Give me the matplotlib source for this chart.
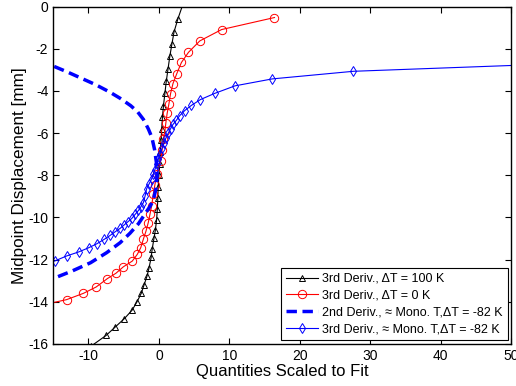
import numpy as np
import matplotlib
matplotlib.use("Agg")
import matplotlib.pyplot as plt

plt.rcParams['font.family'] = ['Liberation Sans', 'DejaVu Sans']
plt.rcParams['axes.unicode_minus'] = False

# 3rd Deriv., dT = 100 K  (black triangles)
blk_x = [3.4, 2.7, 2.15, 1.85, 1.55, 1.3, 1.05, 0.85, 0.65, 0.5, 0.4, 0.3, 0.2, 0.12,
         0.0, -0.1, -0.15, -0.22, -0.32, -0.5, -0.7, -0.95, -1.1, -1.4, -1.7, -2.1,
         -2.5, -3.1, -3.8, -4.9, -6.2, -7.5, -9.6]
blk_y = [0.1, -0.58, -1.2, -1.77, -2.36, -2.95, -3.54, -4.12, -4.7, -5.25, -5.8, -6.35,
         -6.9, -7.45, -8.0, -8.55, -9.1, -9.6, -10.1, -10.6, -11.0, -11.5, -11.9, -12.4,
         -12.8, -13.2, -13.6, -14.0, -14.4, -14.8, -15.2, -15.6, -16.1]

# 3rd Deriv., dT = 0 K  (red circles)
red_x = [-16.5, -13.1, -10.7, -8.9, -7.3, -6.1, -5.03, -3.77, -3.06, -2.58, -2.21,
         -1.83, -1.51, -1.27, -1.03, -0.8, -0.56, -0.32, 0.24, 0.47, 0.61, 0.85, 0.99,
         1.17, 1.41, 1.65, 2.0, 2.54, 3.2, 4.2, 5.8, 8.9, 16.4]
red_y = [-14.15, -13.9, -13.6, -13.3, -12.9, -12.65, -12.34, -12.07, -11.75, -11.44,
         -11.04, -10.65, -10.25, -9.86, -9.46, -8.91, -8.44, -7.96, -7.33, -6.78, -6.3,
         -5.91, -5.51, -5.07, -4.64, -4.14, -3.65, -3.18, -2.65, -2.17, -1.63, -1.09, -0.52]

# 2nd Deriv., ~ Mono. T, dT = -82 K  (thick dashed blue)
dsh_x = [-17.0, -15.0, -13.0, -11.0, -9.0, -7.0, -5.5, -4.0, -3.0, -2.2, -1.5, -1.0,
         -0.6, -0.35, -0.25, -0.4, -0.8, -1.3, -2.0, -2.9, -4.1, -5.5, -7.4, -9.7,
         -12.3, -15.0, -17.0]
dsh_y = [-2.6, -2.82, -3.1, -3.4, -3.7, -4.05, -4.35, -4.7, -5.0, -5.35, -5.8, -6.2,
         -6.8, -7.4, -8.0, -8.6, -9.2, -9.5, -9.85, -10.3, -10.75, -11.2, -11.67, -12.15,
         -12.54, -12.9, -13.1]

# 3rd Deriv., ~ Mono. T, dT = -82 K  (blue diamonds)
dia_x = [-14.8, -13.1, -11.4, -9.97, -8.8, -7.76, -6.9, -6.2, -5.5, -4.94, -4.37, -3.85,
         -3.38, -2.9, -2.54, -2.2, -1.95, -1.73, -1.37, -1.03, -0.8, -0.56, -0.32, -0.1,
         0.14, 0.47, 0.75, 0.99, 1.31, 1.65, 2.0, 2.49, 2.96, 3.67, 4.6, 5.9, 7.9, 10.8,
         16.1, 27.6, 56.0]
dia_y = [-12.07, -11.83, -11.64, -11.44, -11.25, -11.04, -10.85, -10.68, -10.52, -10.36,
         -10.2, -10.05, -9.86, -9.67, -9.49, -9.3, -8.97, -8.63, -8.4, -8.17, -7.96, -7.73,
         -7.49, -7.25, -7.01, -6.7, -6.46, -6.24, -6.02, -5.8, -5.59, -5.39, -5.17, -4.93,
         -4.69, -4.41, -4.12, -3.76, -3.43, -3.07, -2.72]

labels = ["3rd Deriv., \u0394T = 100 K",
          "3rd Deriv., \u0394T = 0 K",
          "2nd Deriv., \u2248 Mono. T,\u0394T = -82 K",
          "3rd Deriv., \u2248 Mono. T,\u0394T = -82 K"]

fig = plt.figure(figsize=(5.16, 3.86), dpi=100)
ax = fig.add_axes([0.103, 0.109, 0.888, 0.874])

ax.plot(blk_x, blk_y, '-^', color='black', lw=0.8, ms=5, mfc='none', mew=0.7, label=labels[0])
ax.plot(red_x, red_y, '-o', color='red', lw=0.8, ms=6, mfc='none', mew=0.7, label=labels[1])
ax.plot(dsh_x, dsh_y, '--', color='blue', lw=2.5, dashes=(3, 1.6), label=labels[2])
ax.plot(dia_x, dia_y, '-d', color='blue', lw=0.8, ms=5.5, mfc='none', mew=0.7, label=labels[3])

ax.set_xlim(-15, 50)
ax.set_ylim(-16, 0)
ax.set_xticks([-10, 0, 10, 20, 30, 40, 50])
ax.set_yticks(np.arange(-16, 1, 2))
ax.tick_params(direction='in', top=True, right=True, length=4, width=0.8, labelsize=10)
for s in ax.spines.values():
    s.set_linewidth(1.0)

ax.set_xlabel("Quantities Scaled to Fit", fontsize=12, labelpad=1)
ax.set_ylabel("Midpoint Displacement [mm]", fontsize=12.3, labelpad=1)

leg = ax.legend(loc='lower right', fontsize=9, fancybox=False, framealpha=1,
                edgecolor='black', borderaxespad=0.3, handlelength=2.6,
                labelspacing=0.38, borderpad=0.4, handletextpad=0.3)
leg.get_frame().set_linewidth(0.8)

fig.savefig("out.png", dpi=100)
